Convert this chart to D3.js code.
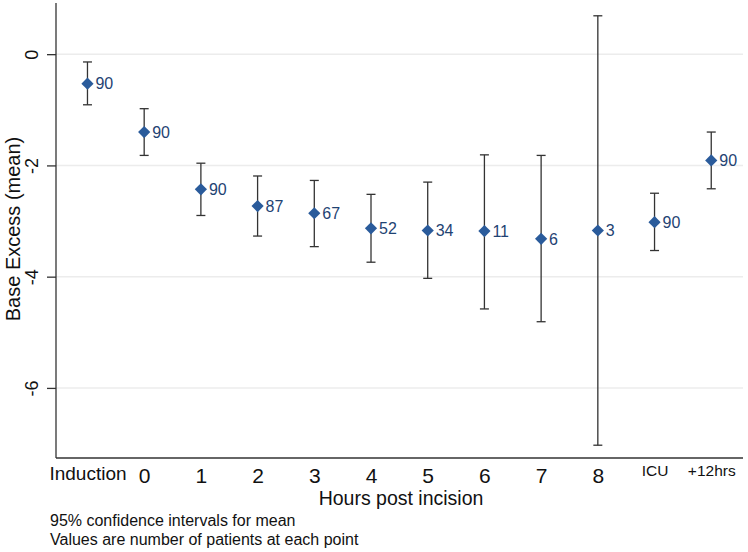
<!DOCTYPE html>
<html>
<head>
<meta charset="utf-8">
<script src="https://cdn.jsdelivr.net/npm/d3@7"></script>
<style>
body { margin: 0; background: #fff; }
text { font-family: "Liberation Sans", Arial, sans-serif; }
</style>
</head>
<body>
<script>
// data
var categories = ["Induction", "0", "1", "2", "3", "4", "5", "6", "7", "8", "ICU", "+12hrs"];
var means = [-0.53, -1.40, -2.43, -2.73, -2.86, -3.13, -3.17, -3.18, -3.32, -3.17, -3.02, -1.91];
var ciLow = [-0.91, -1.82, -2.90, -3.27, -3.46, -3.74, -4.03, -4.58, -4.81, -7.03, -3.53, -2.42];
var ciHigh = [-0.14, -0.98, -1.96, -2.19, -2.27, -2.52, -2.30, -1.81, -1.82, 0.69, -2.50, -1.40];
var counts = [90, 90, 90, 87, 67, 52, 34, 11, 6, 3, 90, 90];
var yTicks = [0, -2, -4, -6];

var W = 748, H = 552;
var plotLeft = 56, plotRight = 743, plotTop = 3, plotBottom = 458;

var svg = d3.select("body").append("svg")
    .attr("width", W)
    .attr("height", H);

var xScale = d3.scaleLinear()
    .domain([-0.555, 11.56])
    .range([plotLeft, plotRight]);

var yScale = d3.scaleLinear()
    .domain([-7.26, 0.92])
    .range([plotBottom, plotTop]);

var data = categories.map(function(c, i) {
  return {cat: c, i: i, mean: means[i], lo: ciLow[i], hi: ciHigh[i], n: counts[i]};
});

// gridlines
svg.append("g")
    .selectAll("line")
    .data(yTicks)
    .enter().append("line")
    .attr("x1", plotLeft)
    .attr("x2", plotRight)
    .attr("y1", function(d) { return yScale(d); })
    .attr("y2", function(d) { return yScale(d); })
    .style("stroke", "#ececec")
    .style("stroke-width", "1.5px");

// y axis (plain hyphen for minus, like the original)
var yAxis = d3.axisLeft(yScale)
    .tickValues(yTicks)
    .tickSize(9)
    .tickFormat(function(d) { return String(d); });

var gy = svg.append("g")
    .attr("transform", "translate(" + plotLeft + ",0)")
    .call(yAxis);
gy.select(".domain").attr("d", "M0," + plotTop + "V" + plotBottom).style("stroke", "#333").style("stroke-width", "1.3px");
gy.selectAll(".tick line").style("stroke", "#333").style("stroke-width", "1.3px");
gy.selectAll(".tick text")
    .attr("x", null).attr("dy", null)
    .attr("text-anchor", "middle")
    .attr("transform", "translate(-18,0) rotate(-90)")
    .style("font-size", "18px")
    .style("fill", "#111");

// x axis
var xAxis = d3.axisBottom(xScale)
    .tickValues(d3.range(categories.length))
    .tickSize(0)
    .tickFormat(function(d) { return categories[d]; });

var gx = svg.append("g")
    .attr("transform", "translate(0," + plotBottom + ")")
    .call(xAxis);
gx.select(".domain").attr("d", "M" + plotLeft + ",0H" + plotRight).style("stroke", "#333").style("stroke-width", "1.3px");
gx.selectAll(".tick text")
    .attr("dy", null)
    .attr("y", function(d) { return d == 0 ? 22 : (d >= 10 ? 18 : 25); })
    .style("font-size", function(d) { return d == 0 ? "19px" : (d >= 10 ? "15.5px" : "21px"); })
    .style("fill", "#111");

// error bars
var bars = svg.append("g").selectAll("g")
    .data(data)
    .enter().append("g");

bars.append("line")
    .attr("x1", function(d) { return xScale(d.i); })
    .attr("x2", function(d) { return xScale(d.i); })
    .attr("y1", function(d) { return yScale(d.hi); })
    .attr("y2", function(d) { return yScale(d.lo); })
    .style("stroke", "#333")
    .style("stroke-width", "1.3px");

["hi", "lo"].forEach(function(k) {
  bars.append("line")
      .attr("x1", function(d) { return xScale(d.i) - 4.5; })
      .attr("x2", function(d) { return xScale(d.i) + 4.5; })
      .attr("y1", function(d) { return yScale(d[k]); })
      .attr("y2", function(d) { return yScale(d[k]); })
      .style("stroke", "#333")
      .style("stroke-width", "1.3px");
});

// markers
bars.append("path")
    .attr("d", d3.symbol().type(d3.symbolDiamond2).size(95))
    .attr("transform", function(d) { return "translate(" + xScale(d.i) + "," + yScale(d.mean) + ")"; })
    .style("fill", "#2a5b9b");

// count labels
bars.append("text")
    .attr("x", function(d) { return xScale(d.i) + 8; })
    .attr("y", function(d) { return yScale(d.mean); })
    .attr("dy", "0.36em")
    .style("font-size", "16px")
    .style("fill", "#1f4373")
    .text(function(d) { return d.n; });

// axis titles
svg.append("text")
    .attr("x", 401)
    .attr("y", 505)
    .attr("text-anchor", "middle")
    .style("font-size", "19.5px")
    .style("fill", "#111")
    .text("Hours post incision");

svg.append("text")
    .attr("transform", "translate(20,229) rotate(-90)")
    .attr("text-anchor", "middle")
    .style("font-size", "20px")
    .style("fill", "#111")
    .text("Base Excess (mean)");

// notes
var notes = ["95% confidence intervals for mean", "Values are number of patients at each point"];
svg.append("g").selectAll("text")
    .data(notes)
    .enter().append("text")
    .attr("x", 50)
    .attr("y", function(d, i) { return 526 + i * 19; })
    .style("font-size", "16px")
    .style("fill", "#111")
    .text(function(d) { return d; });
</script>
</body>
</html>
